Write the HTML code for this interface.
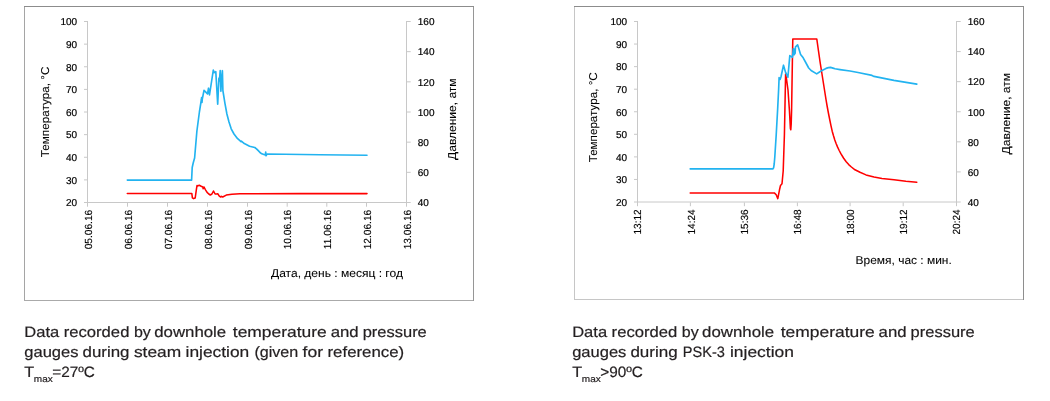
<!DOCTYPE html>
<html lang="en"><head><meta charset="utf-8"><title>Downhole gauges</title>
<style>
html,body{margin:0;padding:0;background:#fff;}
body{width:1050px;height:401px;overflow:hidden;font-family:"Liberation Sans",sans-serif;}
svg{display:block;}
</style></head><body>
<svg width="1050" height="401" viewBox="0 0 1050 401" text-rendering="geometricPrecision">
<rect width="1050" height="401" fill="#fff"/>
<g transform="translate(0,0)">
<g shape-rendering="crispEdges" stroke-width="1" fill="none">
<path d="M24.5 6 V301.0" stroke="#a5a5a5"/>
<path d="M24 300.5 H474" stroke="#aaaaaa"/>
<path d="M473.5 6 V301.0" stroke="#969696"/>
<path d="M24 6.5 H474" stroke="#8c8c8c"/>
</g>
<g stroke="#c8c8c8" stroke-width="1" shape-rendering="crispEdges" fill="none">
<path d="M87.5 21 V203.0"/>
<path d="M406.5 21 V203.0"/>
</g>
<g stroke="#c8c8c8" stroke-width="1" fill="none">
<path d="M87 202.5 H407"/>
<path d="M84 21.500 H87"/>
<path d="M84 44.125 H87"/>
<path d="M84 66.750 H87"/>
<path d="M84 89.375 H87"/>
<path d="M84 112.000 H87"/>
<path d="M84 134.625 H87"/>
<path d="M84 157.250 H87"/>
<path d="M84 179.875 H87"/>
<path d="M84 202.500 H87"/>
<path d="M407 21.500 H410.7"/>
<path d="M407 51.667 H410.7"/>
<path d="M407 81.833 H410.7"/>
<path d="M407 112.000 H410.7"/>
<path d="M407 142.167 H410.7"/>
<path d="M407 172.333 H410.7"/>
<path d="M407 202.500 H410.7"/>
<path d="M87.500 203.0 V206.7"/>
<path d="M127.500 203.0 V206.7"/>
<path d="M167.500 203.0 V206.7"/>
<path d="M207.500 203.0 V206.7"/>
<path d="M247.500 203.0 V206.7"/>
<path d="M287.200 203.0 V206.7"/>
<path d="M326.800 203.0 V206.7"/>
<path d="M366.500 203.0 V206.7"/>
<path d="M406.500 203.0 V206.7"/>
</g>
<g font-family="Liberation Sans, sans-serif" font-size="10" fill="#000" stroke="#000" stroke-width="0.2" text-anchor="end">
<text x="77.2" y="25.30">100</text>
<text x="77.2" y="47.92">90</text>
<text x="77.2" y="70.55">80</text>
<text x="77.2" y="93.17">70</text>
<text x="77.2" y="115.80">60</text>
<text x="77.2" y="138.43">50</text>
<text x="77.2" y="161.05">40</text>
<text x="77.2" y="183.68">30</text>
<text x="77.2" y="206.30">20</text>
</g>
<g font-family="Liberation Sans, sans-serif" font-size="10" fill="#000" stroke="#000" stroke-width="0.2">
<text x="417.8" y="25.30">160</text>
<text x="417.8" y="55.47">140</text>
<text x="417.8" y="85.63">120</text>
<text x="417.8" y="115.80">100</text>
<text x="417.8" y="145.97">80</text>
<text x="417.8" y="176.13">60</text>
<text x="417.8" y="206.30">40</text>
</g>
<g font-family="Liberation Sans, sans-serif" font-size="10.3" fill="#000" stroke="#000" stroke-width="0.12" text-anchor="end">
<text transform="translate(91.50,209.8) rotate(-90)" textLength="39.5" lengthAdjust="spacingAndGlyphs">05.06.16</text>
<text transform="translate(131.50,209.8) rotate(-90)" textLength="39.5" lengthAdjust="spacingAndGlyphs">06.06.16</text>
<text transform="translate(171.50,209.8) rotate(-90)" textLength="39.5" lengthAdjust="spacingAndGlyphs">07.06.16</text>
<text transform="translate(211.50,209.8) rotate(-90)" textLength="39.5" lengthAdjust="spacingAndGlyphs">08.06.16</text>
<text transform="translate(251.50,209.8) rotate(-90)" textLength="39.5" lengthAdjust="spacingAndGlyphs">09.06.16</text>
<text transform="translate(291.20,209.8) rotate(-90)" textLength="39.5" lengthAdjust="spacingAndGlyphs">10.06.16</text>
<text transform="translate(330.80,209.8) rotate(-90)" textLength="39.5" lengthAdjust="spacingAndGlyphs">11.06.16</text>
<text transform="translate(370.50,209.8) rotate(-90)" textLength="39.5" lengthAdjust="spacingAndGlyphs">12.06.16</text>
<text transform="translate(410.50,209.8) rotate(-90)" textLength="39.5" lengthAdjust="spacingAndGlyphs">13.06.16</text>
</g>
<text font-family="Liberation Sans, sans-serif" font-size="11.4" fill="#000" stroke="#000" stroke-width="0.06" transform="translate(48.8,157.2) rotate(-90)" textLength="90.6" lengthAdjust="spacingAndGlyphs">Температура, °С</text>
<text font-family="Liberation Sans, sans-serif" font-size="11.4" fill="#000" stroke="#000" stroke-width="0.06" transform="translate(455.5,159.9) rotate(-90)" textLength="81.5" lengthAdjust="spacingAndGlyphs">Давление, атм</text>
<text font-family="Liberation Sans, sans-serif" font-size="11.4" fill="#000" stroke="#000" stroke-width="0.06" x="271.0" y="276.6" textLength="131.9" lengthAdjust="spacingAndGlyphs">Дата, день : месяц : год</text>
<path d="M127.3 193.4 L191.8 193.4 L192.4 197.8 L193.6 198.6 L195.2 198.0 L196.4 189.4 L197.0 185.6 L198.0 185.9 L199.2 185.2 L201.2 186.3 L202.8 187.0 L203.2 188.7 L204.0 187.0 L205.5 189.8 L207.1 192.4 L208.8 194.0 L210.3 195.0 L211.9 194.0 L213.5 191.0 L215.1 194.0 L216.5 194.0 L217.9 193.8 L219.1 195.9 L220.7 197.0 L221.5 196.3 L222.7 197.0 L226.3 195.1 L231.9 194.2 L239.9 193.8 L300.0 193.6 L367.0 193.6" fill="none" stroke="#ff0000" stroke-width="1.55" stroke-linejoin="round" stroke-linecap="round"/>
<path d="M127.3 180.1 L191.6 180.1 L192.2 167.5 L193.2 163.0 L194.6 158.0 L196.9 131.0 L199.4 112.0 L201.3 100.0 L201.6 97.5 L202.0 102.5 L202.3 99.0 L204.0 90.4 L205.6 91.9 L207.5 93.8 L208.5 88.2 L209.5 95.0 L213.3 70.1 L214.3 72.6 L215.8 71.7 L217.7 104.1 L218.9 78.2 L219.4 81.0 L220.2 70.5 L220.9 91.3 L221.5 80.0 L222.4 70.7 L222.9 90.7 L223.6 95.0 L224.9 103.1 L226.9 114.0 L229.0 122.0 L231.2 128.8 L234.0 134.0 L237.4 138.4 L241.0 141.6 L241.4 141.2 L244.3 143.6 L249.6 146.2 L254.8 147.5 L256.5 148.8 L258.3 150.6 L260.0 152.5 L261.8 153.8 L265.3 155.0 L265.7 152.0 L266.0 155.8 L267.0 154.1 L285.0 154.2 L320.0 154.7 L367.0 155.2" fill="none" stroke="#22b3f0" stroke-width="1.65" stroke-linejoin="round" stroke-linecap="round"/>
</g>
<g transform="translate(550,0)">
<g shape-rendering="crispEdges" stroke-width="1" fill="none">
<path d="M24.5 6 V300.0" stroke="#c6c6c6"/>
<path d="M24 299.5 H474" stroke="#c6c6c6"/>
<path d="M473.5 6 V300.0" stroke="#8e8e8e"/>
<path d="M24 6.5 H474" stroke="#8c8c8c"/>
</g>
<g stroke="#c8c8c8" stroke-width="1" shape-rendering="crispEdges" fill="none">
<path d="M87.5 21 V202.5"/>
<path d="M406.5 21 V202.5"/>
</g>
<g stroke="#c8c8c8" stroke-width="1" fill="none">
<path d="M87 202.0 H407"/>
<path d="M84 21.500 H87"/>
<path d="M84 44.062 H87"/>
<path d="M84 66.625 H87"/>
<path d="M84 89.188 H87"/>
<path d="M84 111.750 H87"/>
<path d="M84 134.312 H87"/>
<path d="M84 156.875 H87"/>
<path d="M84 179.438 H87"/>
<path d="M84 202.000 H87"/>
<path d="M407 21.500 H410.7"/>
<path d="M407 51.583 H410.7"/>
<path d="M407 81.667 H410.7"/>
<path d="M407 111.750 H410.7"/>
<path d="M407 141.833 H410.7"/>
<path d="M407 171.917 H410.7"/>
<path d="M407 202.000 H410.7"/>
<path d="M87.500 202.5 V206.2"/>
<path d="M140.400 202.5 V206.2"/>
<path d="M194.400 202.5 V206.2"/>
<path d="M247.400 202.5 V206.2"/>
<path d="M300.100 202.5 V206.2"/>
<path d="M353.200 202.5 V206.2"/>
<path d="M406.500 202.5 V206.2"/>
</g>
<g font-family="Liberation Sans, sans-serif" font-size="10" fill="#000" stroke="#000" stroke-width="0.2" text-anchor="end">
<text x="77.2" y="25.30">100</text>
<text x="77.2" y="47.86">90</text>
<text x="77.2" y="70.42">80</text>
<text x="77.2" y="92.99">70</text>
<text x="77.2" y="115.55">60</text>
<text x="77.2" y="138.11">50</text>
<text x="77.2" y="160.68">40</text>
<text x="77.2" y="183.24">30</text>
<text x="77.2" y="205.80">20</text>
</g>
<g font-family="Liberation Sans, sans-serif" font-size="10" fill="#000" stroke="#000" stroke-width="0.2">
<text x="417.8" y="25.30">160</text>
<text x="417.8" y="55.38">140</text>
<text x="417.8" y="85.47">120</text>
<text x="417.8" y="115.55">100</text>
<text x="417.8" y="145.63">80</text>
<text x="417.8" y="175.72">60</text>
<text x="417.8" y="205.80">40</text>
</g>
<g font-family="Liberation Sans, sans-serif" font-size="10.3" fill="#000" stroke="#000" stroke-width="0.12" text-anchor="end">
<text transform="translate(91.20,209.4) rotate(-90)" textLength="25.1" lengthAdjust="spacingAndGlyphs">13:12</text>
<text transform="translate(145.30,209.4) rotate(-90)" textLength="25.1" lengthAdjust="spacingAndGlyphs">14:24</text>
<text transform="translate(198.40,209.4) rotate(-90)" textLength="25.1" lengthAdjust="spacingAndGlyphs">15:36</text>
<text transform="translate(251.40,209.4) rotate(-90)" textLength="25.1" lengthAdjust="spacingAndGlyphs">16:48</text>
<text transform="translate(304.10,209.4) rotate(-90)" textLength="25.1" lengthAdjust="spacingAndGlyphs">18:00</text>
<text transform="translate(357.20,209.4) rotate(-90)" textLength="25.1" lengthAdjust="spacingAndGlyphs">19:12</text>
<text transform="translate(410.00,209.4) rotate(-90)" textLength="25.1" lengthAdjust="spacingAndGlyphs">20:24</text>
</g>
<text font-family="Liberation Sans, sans-serif" font-size="11.4" fill="#000" stroke="#000" stroke-width="0.06" transform="translate(46.8,162.3) rotate(-90)" textLength="90.0" lengthAdjust="spacingAndGlyphs">Температура, °С</text>
<text font-family="Liberation Sans, sans-serif" font-size="11.4" fill="#000" stroke="#000" stroke-width="0.06" transform="translate(459.7,154.4) rotate(-90)" textLength="81.4" lengthAdjust="spacingAndGlyphs">Давление, атм</text>
<text font-family="Liberation Sans, sans-serif" font-size="11.4" fill="#000" stroke="#000" stroke-width="0.06" x="305.6" y="263.7" textLength="96.2" lengthAdjust="spacingAndGlyphs">Время, час : мин.</text>
<path d="M140.2 192.9 L224.3 192.9 L226.2 194.8 L227.8 198.6 L229.5 189.8 L230.5 185.5 L232.0 183.8 L233.2 171.0 L234.4 135.0 L234.9 110.0 L235.6 74.0 L236.5 79.0 L238.0 90.0 L239.4 110.0 L240.4 128.5 L240.8 129.8 L241.2 124.0 L241.6 110.0 L242.4 60.0 L242.8 39.0 L266.8 39.0 L268.5 51.0 L270.0 61.5 L271.5 71.0 L273.0 80.5 L274.5 90.0 L276.0 99.5 L277.2 106.5 L278.4 113.0 L279.6 119.0 L280.9 125.3 L282.2 131.2 L283.5 135.8 L284.8 139.9 L286.1 143.5 L287.5 146.9 L289.2 150.5 L291.0 153.9 L293.5 158.0 L296.2 161.8 L298.7 164.6 L301.4 167.0 L305.0 169.8 L310.0 172.3 L316.0 174.9 L324.0 177.1 L332.0 178.4 L344.0 179.7 L355.9 181.2 L366.8 182.2" fill="none" stroke="#ff0000" stroke-width="1.55" stroke-linejoin="round" stroke-linecap="round"/>
<path d="M140.2 168.9 L222.8 168.9 L223.6 167.8 L224.2 164.0 L224.8 157.0 L226.2 135.0 L227.6 110.0 L228.6 90.0 L229.1 77.6 L230.1 79.5 L231.0 76.7 L233.5 65.2 L235.6 72.4 L237.9 77.2 L239.8 55.6 L242.4 57.4 L242.9 52.5 L243.3 48.6 L243.6 54.6 L244.0 49.0 L244.4 54.6 L244.8 49.5 L245.1 53.5 L245.5 46.8 L247.6 44.8 L248.7 48.2 L250.6 54.4 L253.2 57.8 L256.0 63.0 L258.7 68.0 L261.1 70.5 L266.7 73.9 L269.5 72.0 L272.0 70.4 L276.0 68.4 L278.5 67.6 L280.5 67.4 L283.0 68.1 L285.0 68.8 L290.0 69.6 L300.0 71.0 L308.0 72.5 L322.0 75.4 L324.0 76.4 L343.9 80.4 L366.8 84.1" fill="none" stroke="#22b3f0" stroke-width="1.65" stroke-linejoin="round" stroke-linecap="round"/>
</g>
<g font-family="Liberation Sans, sans-serif" font-size="15" fill="#231f20" stroke="#231f20" stroke-width="0.2">
<text y="337">
<tspan x="24.30" textLength="34.90" lengthAdjust="spacingAndGlyphs">Data</tspan> <tspan x="63.70" textLength="65.70" lengthAdjust="spacingAndGlyphs">recorded</tspan> <tspan x="133.90" textLength="16.90" lengthAdjust="spacingAndGlyphs">by</tspan> <tspan x="154.20" textLength="72.00" lengthAdjust="spacingAndGlyphs">downhole</tspan> <tspan x="232.80" textLength="94.00" lengthAdjust="spacingAndGlyphs">temperature</tspan> <tspan x="330.70" textLength="28.00" lengthAdjust="spacingAndGlyphs">and</tspan> <tspan x="362.70" textLength="64.10" lengthAdjust="spacingAndGlyphs">pressure</tspan>
</text>
<text y="357">
<tspan x="24.30" textLength="54.20" lengthAdjust="spacingAndGlyphs">gauges</tspan> <tspan x="82.50" textLength="46.90" lengthAdjust="spacingAndGlyphs">during</tspan> <tspan x="133.90" textLength="47.30" lengthAdjust="spacingAndGlyphs">steam</tspan> <tspan x="185.60" textLength="63.70" lengthAdjust="spacingAndGlyphs">injection</tspan> <tspan x="254.40" textLength="43.90" lengthAdjust="spacingAndGlyphs">(given</tspan> <tspan x="302.60" textLength="20.50" lengthAdjust="spacingAndGlyphs">for</tspan> <tspan x="327.50" textLength="76.70" lengthAdjust="spacingAndGlyphs">reference)</tspan>
</text>
<text y="337">
<tspan x="572.20" textLength="34.90" lengthAdjust="spacingAndGlyphs">Data</tspan> <tspan x="611.60" textLength="65.70" lengthAdjust="spacingAndGlyphs">recorded</tspan> <tspan x="681.80" textLength="16.90" lengthAdjust="spacingAndGlyphs">by</tspan> <tspan x="702.10" textLength="72.00" lengthAdjust="spacingAndGlyphs">downhole</tspan> <tspan x="780.70" textLength="94.00" lengthAdjust="spacingAndGlyphs">temperature</tspan> <tspan x="878.60" textLength="28.00" lengthAdjust="spacingAndGlyphs">and</tspan> <tspan x="910.60" textLength="64.10" lengthAdjust="spacingAndGlyphs">pressure</tspan>
</text>
<text y="357">
<tspan x="572.20" textLength="54.20" lengthAdjust="spacingAndGlyphs">gauges</tspan> <tspan x="630.40" textLength="47.30" lengthAdjust="spacingAndGlyphs">during</tspan> <tspan x="682.80" textLength="42.10" lengthAdjust="spacingAndGlyphs">PSK-3</tspan> <tspan x="730.00" textLength="63.90" lengthAdjust="spacingAndGlyphs">injection</tspan>
</text>
</g>
<g font-family="Liberation Sans, sans-serif" fill="#231f20" stroke="#231f20" stroke-width="0.2"><text x="24.2" y="377.2" font-size="15" textLength="9.9" lengthAdjust="spacingAndGlyphs">T</text><text x="33.8" y="381.7" font-size="9.2" textLength="18.9" lengthAdjust="spacingAndGlyphs">max</text><text x="52.2" y="377.2" font-size="15" textLength="42.7" lengthAdjust="spacingAndGlyphs">=27ºC</text></g>
<g font-family="Liberation Sans, sans-serif" fill="#231f20" stroke="#231f20" stroke-width="0.2"><text x="572.2" y="377.2" font-size="15" textLength="9.9" lengthAdjust="spacingAndGlyphs">T</text><text x="581.8" y="381.7" font-size="9.2" textLength="18.9" lengthAdjust="spacingAndGlyphs">max</text><text x="600.2" y="377.2" font-size="15" textLength="42.7" lengthAdjust="spacingAndGlyphs">&gt;90ºC</text></g>
</svg>
</body></html>
